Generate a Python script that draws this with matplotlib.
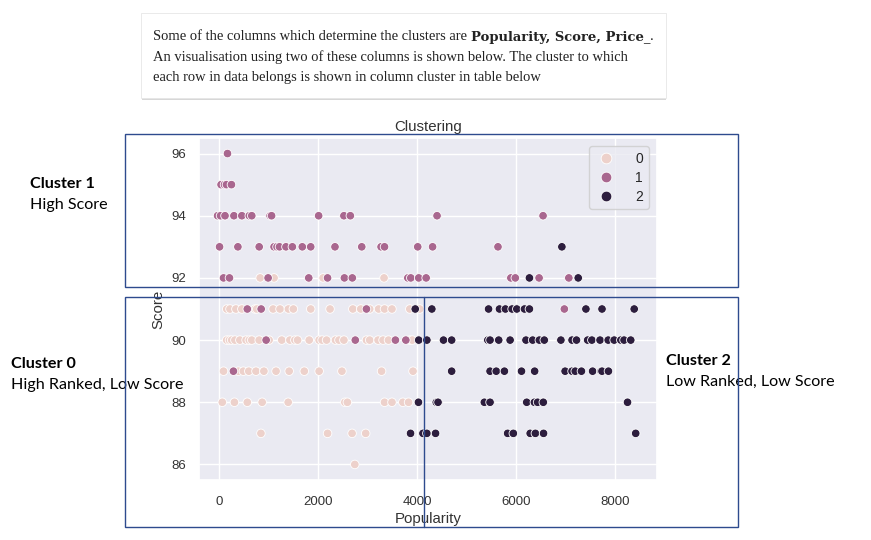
import numpy as np
import matplotlib
matplotlib.use("Agg")
import matplotlib.pyplot as plt
import seaborn as sns
from matplotlib.patches import Rectangle

# ---- data: popularity values per score row, per cluster ----
cluster0_rows = {
    92: [830, 1110, 2100, 3330],
    91: [155, 220, 340, 460, 725, 760, 1090, 1230, 1400, 1500, 1850, 2240, 2700,
         2860, 3040, 3220, 3340, 3490, 3850, 4050],
    90: [155, 210, 255, 320, 420, 545, 610, 660, 810, 1010, 1265, 1430, 1530, 1585,
         1820, 2020, 2080, 2170, 2350, 2420, 2520, 2975, 3040, 3210, 3310, 3420,
         3850, 3900],
    89: [90, 390, 490, 600, 745, 905, 1150, 1415, 1720, 2020, 2480, 3280, 3915],
    88: [65, 310, 570, 870, 1395, 2540, 2590, 3340, 3490, 3710, 3825],
    87: [845, 2190, 2685, 2960],
    86: [2740],
}
cluster1_rows = {
    96: [170],
    95: [40, 110, 150, 250],
    94: [-30, 30, 120, 300, 460, 610, 660, 1030, 1060, 2010, 2520, 2650, 4400, 6540],
    93: [10, 380, 810, 1110, 1170, 1220, 1350, 1480, 1680, 1850, 2340, 2880, 3270,
         3340, 4010, 4310, 5630],
    92: [90, 210, 990, 1810, 2190, 2530, 2690, 3810, 3870, 4030, 4180, 5890, 5980,
         6460, 7060],
    91: [570, 850, 2975, 6970],
    90: [950, 2750, 3560, 3770],
    89: [290],
}
cluster2_rows = {
    93: [6920],
    92: [6265, 7250],
    91: [3960, 4295, 5440, 5660, 5780, 5915, 6010, 6165, 6265, 7405, 7730, 8380],
    90: [4030, 4195, 4530, 4695, 5425, 5470, 5645, 5875, 6195, 6330, 6465, 6565,
         6900, 7125, 7215, 7440, 7525, 7690, 7855, 7975, 8110, 8175, 8310],
    89: [4695, 5470, 5595, 5760, 6105, 6370, 6985, 7125, 7190, 7315, 7540, 7710,
         7730, 7860],
    88: [4025, 4385, 4420, 5355, 5470, 6210, 6365, 6430, 6545, 8245],
    87: [3865, 4115, 4195, 4370, 5825, 5940, 6280, 6385, 6550, 8410],
}
x_ticks = [0, 2000, 4000, 6000, 8000]
y_ticks = [86, 88, 90, 92, 94, 96]

pop, score, cluster = [], [], []
for c, rows in enumerate([cluster0_rows, cluster1_rows, cluster2_rows]):
    for s, vals in rows.items():
        for v in vals:
            pop.append(v)
            score.append(s)
            cluster.append(c)
pop = np.array(pop, dtype=float)
score = np.array(score, dtype=float)
cluster = np.array(cluster)

# ---- figure ----
sns.set_theme(style="darkgrid")
plt.rcParams["font.family"] = ["Liberation Sans", "DejaVu Sans"]

W, H = 871, 540
fig = plt.figure(figsize=(W / 100, H / 100), dpi=100)
fig.patch.set_facecolor("white")


def fx(x):
    return x / W


def fy(y):
    return 1 - y / H


ax = fig.add_axes([fx(199), fy(480), (657 - 199) / W, (480 - 138) / H])
sns.scatterplot(x=pop, y=score, hue=cluster, legend="full", s=38,
                edgecolor="white", linewidth=0.6, ax=ax)
ax.set_xlim(-405, 8840)
ax.set_ylim(85.5, 96.5)
ax.set_xticks(x_ticks)
ax.set_yticks(y_ticks)
ax.tick_params(axis="both", labelsize=9.5, colors="#333333")
ax.tick_params(axis="x", pad=5.5)
ax.tick_params(axis="y", pad=3.5)
ax.set_title("Clustering", fontsize=10.8, color="#333333", pad=5)
ax.set_xlabel("Popularity", fontsize=10.8, color="#333333", labelpad=3)
ax.set_ylabel("Score", fontsize=10.8, color="#333333", labelpad=4)
sns.move_legend(ax, "upper right", title=None, fontsize=10, frameon=True,
                borderpad=0.4, handletextpad=1.3, labelspacing=0.35,
                markerscale=1.25, borderaxespad=0.6, handlelength=1.6)

# ---- annotation rectangles ----
blue = "#2E4B8E"
fig.add_artist(Rectangle((fx(125), fy(287)), (738 - 125) / W, (287 - 134) / H,
                         transform=fig.transFigure, fill=False, ec=blue, lw=1, zorder=5))
fig.add_artist(Rectangle((fx(125), fy(527)), (738 - 125) / W, (527 - 297) / H,
                         transform=fig.transFigure, fill=False, ec=blue, lw=1, zorder=5))
fig.add_artist(plt.Line2D([fx(424), fx(424)], [fy(297), fy(527)],
                          transform=fig.transFigure, color=blue, lw=1, zorder=5))

# ---- text box at top ----
fig.add_artist(Rectangle((fx(142), fy(100)), (666 - 142) / W, (100 - 14) / H,
                         transform=fig.transFigure, fc="#bdbdbd", ec="none",
                         alpha=0.6, zorder=2))
fig.add_artist(Rectangle((fx(141), fy(98)), (666 - 141) / W, (98 - 13) / H,
                         transform=fig.transFigure, fc="white", ec="#e6e6e6",
                         lw=0.6, zorder=3))
serif = ["Liberation Serif", "DejaVu Serif"]
fs_top = 10.45
t1 = fig.text(fx(153), fy(37), "Some of the columns which determine the clusters are ",
              family=serif, fontsize=fs_top, va="center", ha="left", color="#222222", zorder=4)
fig.canvas.draw()
r = fig.canvas.get_renderer()
bb = t1.get_window_extent(r)
t2 = fig.text(bb.x1 / W, fy(37), "Popularity, Score, Price_",
              family=["DejaVu Serif"], fontsize=9.5, fontweight="bold", va="center",
              ha="left", color="#222222", zorder=4)
bb2 = t2.get_window_extent(r)
target = 650 - bb.x1
t2.set_fontsize(9.5 * target / bb2.width)
bb2 = t2.get_window_extent(r)
fig.text(bb2.x1 / W, fy(37), ".", family=serif, fontsize=fs_top, va="center",
         ha="left", color="#222222", zorder=4)
fig.text(fx(153), fy(57),
         "An visualisation using two of these columns is shown below. The cluster to which",
         family=serif, fontsize=fs_top, va="center", ha="left", color="#222222", zorder=4)
fig.text(fx(153), fy(77), "each row in data belongs is shown in column cluster in table below",
         family=serif, fontsize=fs_top, va="center", ha="left", color="#222222", zorder=4)

# ---- cluster labels ----
lab = ["Lato", "DejaVu Sans"]
fs_lab = 11.6
fig.text(fx(30), fy(184), "Cluster 1", family=lab, fontsize=fs_lab, fontweight="bold",
         va="center", color="black")
fig.text(fx(30), fy(205), "High Score", family=lab, fontsize=fs_lab, va="center", color="black")
fig.text(fx(11), fy(364), "Cluster 0", family=lab, fontsize=fs_lab, fontweight="bold",
         va="center", color="black")
fig.text(fx(11), fy(385), "High Ranked, Low Score", family=lab, fontsize=fs_lab,
         va="center", color="black")
fig.text(fx(666), fy(361), "Cluster 2", family=lab, fontsize=fs_lab, fontweight="bold",
         va="center", color="black")
fig.text(fx(666), fy(382), "Low Ranked, Low Score", family=lab, fontsize=fs_lab,
         va="center", color="black")

fig.savefig("out.png", dpi=100)
